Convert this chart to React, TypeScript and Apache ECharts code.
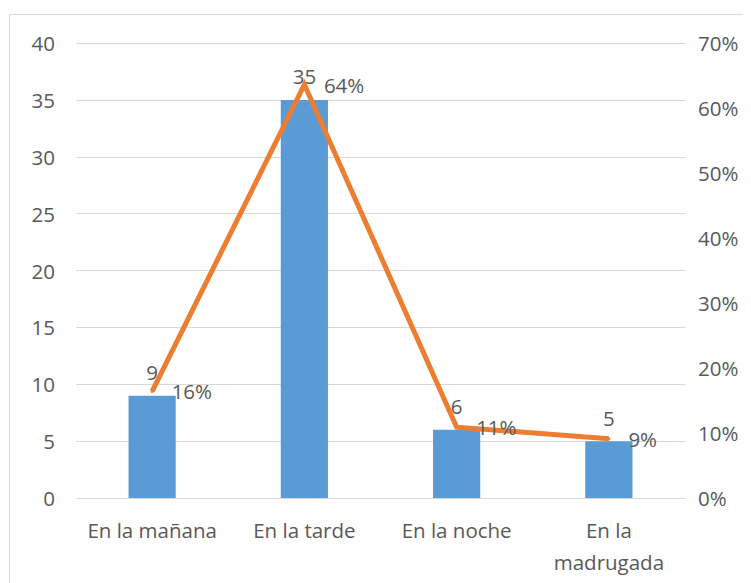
import React, { useEffect, useRef } from "react";
import * as echarts from "echarts";

const categories = ["En la mañana", "En la tarde", "En la noche", "En la\nmadrugada"];
const counts = [9, 35, 6, 5];
const percents = [16.4, 63.6, 10.9, 9.1];
const leftTicks = { min: 0, max: 40, interval: 5 };
const rightTicks = { min: 0, max: 70, interval: 10 };

const FONT = "'Open Sans', sans-serif";
const TXT = "#595959";
const FS = 20.5;

export default function App() {
  const ref = useRef<HTMLDivElement>(null);
  useEffect(() => {
    if (!ref.current) return;
    const chart = echarts.init(ref.current, null, { renderer: "svg" });
    chart.setOption({
      animation: false,
      textStyle: { fontFamily: FONT },
      graphic: [
        {
          type: "rect",
          shape: { x: 1.5, y: 6.5, width: 900, height: 900 },
          style: { fill: "none", stroke: "#d9d9d9", lineWidth: 1 },
          silent: true,
        },
      ],
      grid: { left: 68, right: 66, top: 35, bottom: 85 },
      xAxis: {
        type: "category",
        data: categories,
        axisLine: { show: false },
        axisTick: { show: false },
        axisLabel: { color: TXT, fontSize: FS, fontFamily: FONT, margin: 16, lineHeight: 32, interval: 0 },
      },
      yAxis: [
        {
          type: "value",
          ...leftTicks,
          axisLine: { show: false },
          axisTick: { show: false },
          splitLine: { lineStyle: { color: "#d9d9d9", width: 1 } },
          axisLabel: { color: TXT, fontSize: FS, fontFamily: FONT, margin: 21 },
        },
        {
          type: "value",
          ...rightTicks,
          axisLine: { show: false },
          axisTick: { show: false },
          splitLine: { show: false },
          axisLabel: { color: TXT, fontSize: FS, fontFamily: FONT, margin: 13, formatter: "{value}%" },
        },
      ],
      series: [
        {
          type: "bar",
          data: counts,
          barWidth: "31%",
          itemStyle: { color: "#5B9BD5" },
          label: { show: true, position: "top", distance: 13, color: TXT, fontSize: FS, fontFamily: FONT },
        },
        {
          type: "line",
          yAxisIndex: 1,
          data: percents,
          symbol: "circle",
          symbolSize: 3,
          showSymbol: true,
          lineStyle: { color: "#ED7D31", width: 5, join: "miter" },
          itemStyle: { color: "#ED7D31" },
          label: {
            show: true,
            position: "right",
            distance: 18,
            color: TXT,
            fontSize: FS,
            fontFamily: FONT,
            formatter: (p: any) => Math.round(p.value) + "%",
          },
        },
      ],
    });
    return () => chart.dispose();
  }, []);
  return <div ref={ref} style={{ width: 743, height: 575 }} />;
}
